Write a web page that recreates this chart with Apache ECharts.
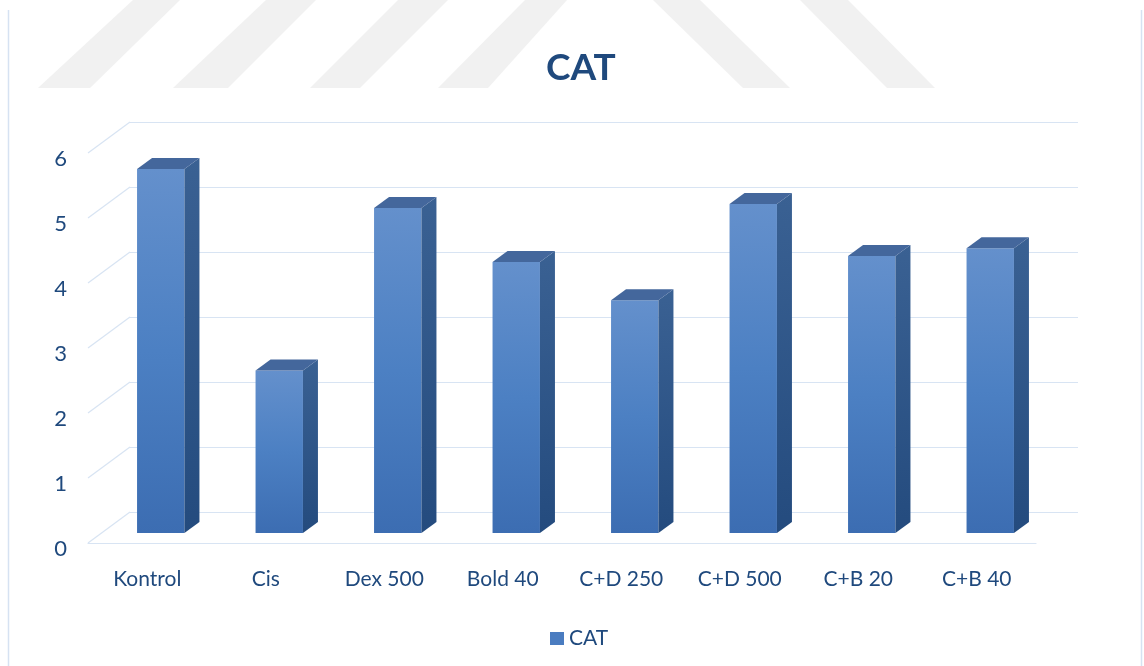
<!DOCTYPE html>
<html><head><meta charset="utf-8">
<script src="https://cdn.jsdelivr.net/npm/echarts@6/dist/echarts.min.js"></script>
<style>html,body{margin:0;padding:0;background:#fff}#c{width:1144px;height:666px}</style>
</head><body><div id="c"></div>
<script>
// ---- data ----
const categories = ['Kontrol', 'Cis', 'Dex 500', 'Bold 40', 'C+D 250', 'C+D 500', 'C+B 20', 'C+B 40'];
const catValues = [5.6, 2.5, 5.0, 4.17, 3.58, 5.06, 4.26, 4.38];
const yTicks = [0, 1, 2, 3, 4, 5, 6];
const seriesName = 'CAT';
const titleText = 'CAT';

// ---- style / perspective ----
const DX = 42, DY = 31;     // wall depth (back -> front)
const BDX = 15, BDY = 11;   // bar depth
const TXT = '#1F497D';
const GRID_C = '#d8e4f3';
const FONT = 'Lato, "Open Sans", sans-serif';

const chart = echarts.init(document.getElementById('c'));

const wm = [
  [[38,88],[90,88],[180,0],[133,0]],
  [[173,88],[228,88],[316,0],[266,0]],
  [[310,88],[360,88],[448,0],[398,0]],
  [[438,88],[488,88],[567,0],[525,0]],
  [[653,0],[700,0],[790,88],[743,88]],
  [[800,0],[848,0],[935,88],[887,88]]
];

const option = {
  backgroundColor: '#ffffff',
  animation: false,
  title: {
    text: titleText,
    left: 541, top: 45,
    textStyle: { fontFamily: FONT, fontSize: 37, fontWeight: 'bold', color: TXT }
  },
  legend: {
    data: [seriesName],
    left: 545, top: 623,
    icon: 'rect', itemWidth: 14, itemHeight: 13, itemGap: 6,
    textStyle: { fontFamily: FONT, fontSize: 21, color: TXT, padding: [4, 0, 0, 0] }
  },
  graphic: wm.map(p => ({
    type: 'polygon', silent: true, z: -10,
    shape: { points: p }, style: { fill: '#f1f1f1' }
  })).concat([
    { type: 'line', silent: true, shape: { x1: 8.5, y1: 10, x2: 8.5, y2: 666 }, style: { stroke: '#d6e2f2', lineWidth: 1.5 } },
    { type: 'line', silent: true, shape: { x1: 1141.5, y1: 10, x2: 1141.5, y2: 666 }, style: { stroke: '#d6e2f2', lineWidth: 1.5 } }
  ]),
  grid: [
    { left: 130, top: 122, width: 948, height: 390 },   // back wall
    { left: 101.5, top: 143, width: 948, height: 390 }, // bar plane
    { left: 88, top: 153, width: 948, height: 390 },    // front plane
    { left: 88, top: 159, width: 948, height: 390 }     // y label placement
  ],
  xAxis: [
    { gridIndex: 0, type: 'category', data: categories, axisLine: { show: false }, axisTick: { show: false }, axisLabel: { show: false } },
    { gridIndex: 1, type: 'category', data: categories, axisLine: { show: false }, axisTick: { show: false }, axisLabel: { show: false } },
    { gridIndex: 2, type: 'category', data: categories,
      axisLine: { show: true, lineStyle: { color: GRID_C, width: 1.2 } },
      axisTick: { show: false },
      axisLabel: { show: true, margin: 26, fontFamily: FONT, fontSize: 21, color: TXT } },
    { gridIndex: 3, type: 'category', data: categories, show: false }
  ],
  yAxis: [
    { gridIndex: 0, type: 'value', min: 0, max: 6, interval: 1,
      axisLine: { show: false }, axisTick: { show: false }, axisLabel: { show: false },
      splitLine: { show: true, lineStyle: { color: GRID_C, width: 1.2 } } },
    { gridIndex: 1, type: 'value', min: 0, max: 6, interval: 1,
      axisLine: { show: false }, axisTick: { show: false }, axisLabel: { show: false }, splitLine: { show: false } },
    { gridIndex: 2, type: 'value', min: 0, max: 6, interval: 1,
      axisLine: { show: false }, axisTick: { show: false }, splitLine: { show: false }, axisLabel: { show: false } },
    { gridIndex: 3, type: 'value', min: 0, max: 6, interval: 1,
      axisLine: { show: false }, axisTick: { show: false }, splitLine: { show: false },
      axisLabel: { show: true, margin: 21, fontFamily: FONT, fontSize: 22, color: TXT } }
  ],
  series: [
    {
      type: 'custom', name: 'walls', xAxisIndex: 0, yAxisIndex: 0, silent: true, z: 1,
      data: yTicks.map(v => [0, v]),
      encode: { x: 0, y: 1 },
      renderItem: function (params, api) {
        const y = api.coord([0, api.value(1)])[1];
        const x = params.coordSys.x;
        return { type: 'line', shape: { x1: x, y1: y, x2: x - DX, y2: y + DY },
          style: { stroke: GRID_C, lineWidth: 1.2 } };
      }
    },
    {
      type: 'custom', name: seriesName, xAxisIndex: 1, yAxisIndex: 1, z: 3,
      itemStyle: { color: '#4a7cc0' },
      data: catValues.map((v, i) => [i, v]),
      encode: { x: 0, y: 1 },
      renderItem: function (params, api) {
        const top = api.coord([api.value(0), api.value(1)]);
        const bot = api.coord([api.value(0), 0]);
        const w = api.size([1, 0])[0] * 0.4;
        const x0 = top[0] - w / 2, x1 = top[0] + w / 2;
        const yt = top[1], yb = bot[1];
        return {
          type: 'group',
          children: [
            { type: 'rect', shape: { x: x0, y: yt, width: w, height: yb - yt },
              style: { fill: new echarts.graphic.LinearGradient(0, 0, 0, 1, [
                { offset: 0, color: '#6490cc' }, { offset: 0.5, color: '#4c80c3' }, { offset: 1, color: '#3c6db2' }]) } },
            { type: 'polygon', shape: { points: [[x1, yt], [x1 + BDX, yt - BDY], [x1 + BDX, yb - BDY], [x1, yb]] },
              style: { fill: new echarts.graphic.LinearGradient(0, 0, 0, 1, [
                { offset: 0, color: '#3a6193' }, { offset: 1, color: '#244b7e' }]) } },
            { type: 'polygon', shape: { points: [[x0, yt], [x0 + BDX, yt - BDY], [x1 + BDX, yt - BDY], [x1, yt]] },
              style: { fill: '#44679c' } }
          ]
        };
      }
    }
  ]
};
chart.setOption(option);
</script>
</body></html>
